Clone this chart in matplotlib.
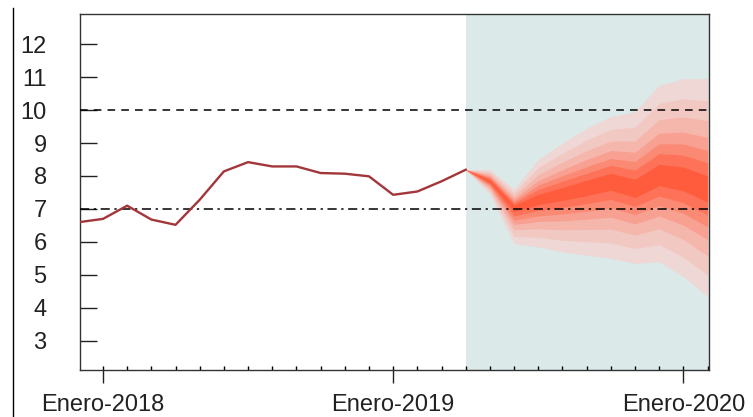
import numpy as np
import matplotlib
matplotlib.use("Agg")
import matplotlib.pyplot as plt
from matplotlib.lines import Line2D

plt.rcParams['font.family'] = ['Liberation Sans', 'DejaVu Sans']

# meses contados desde Enero-2018 (= 0)
obs_mes = [-1, 0, 1, 2, 3, 4, 5, 6, 7, 8, 9, 10, 11, 12, 13, 14, 15]
obs_val = [6.60, 6.70, 7.10, 6.68, 6.52, 7.28, 8.14, 8.42, 8.29, 8.29,
           8.09, 8.07, 7.99, 7.43, 7.53, 7.84, 8.19]

# pronostico (fan chart), abril-2019 .. febrero-2020, de la banda externa a la interna
fan_mes = [15, 16, 17, 18, 19, 20, 21, 22, 23, 24, 25]
mediana = [8.19, 7.85, 7.05, 7.30, 7.47, 7.65, 7.85, 7.62, 8.02, 7.90, 7.60]
banda1_sup = [8.19, 8.20, 7.60, 8.50, 9.00, 9.45, 9.80, 9.95, 10.75, 10.95, 10.95]
banda1_inf = [8.19, 7.45, 5.95, 5.85, 5.70, 5.60, 5.50, 5.35, 5.40, 4.95, 4.35]
banda2_sup = [8.19, 8.13, 7.49, 8.26, 8.69, 9.09, 9.41, 9.48, 10.20, 10.34, 10.28]
banda2_inf = [8.19, 7.53, 6.17, 6.14, 6.05, 6.01, 5.97, 5.80, 5.92, 5.54, 5.00]
banda3_sup = [8.19, 8.07, 7.39, 8.04, 8.42, 8.77, 9.06, 9.06, 9.71, 9.79, 9.68]
banda3_inf = [8.19, 7.60, 6.37, 6.40, 6.37, 6.38, 6.39, 6.21, 6.40, 6.07, 5.58]
banda4_sup = [8.19, 8.01, 7.31, 7.86, 8.19, 8.50, 8.77, 8.72, 9.30, 9.33, 9.17]
banda4_inf = [8.19, 7.66, 6.53, 6.62, 6.64, 6.69, 6.75, 6.55, 6.79, 6.51, 6.07]
banda5_sup = [8.19, 7.97, 7.24, 7.72, 8.01, 8.28, 8.53, 8.44, 8.98, 8.97, 8.77]
banda5_inf = [8.19, 7.71, 6.66, 6.79, 6.85, 6.93, 7.03, 6.83, 7.10, 6.87, 6.46]
banda6_sup = [8.19, 7.93, 7.18, 7.59, 7.84, 8.08, 8.32, 8.18, 8.68, 8.63, 8.40]
banda6_inf = [8.19, 7.75, 6.79, 6.95, 7.05, 7.16, 7.29, 7.08, 7.39, 7.19, 6.82]
banda7_sup = [8.19, 7.89, 7.12, 7.44, 7.65, 7.87, 8.08, 7.90, 8.35, 8.27, 8.00]
banda7_inf = [8.19, 7.80, 6.92, 7.13, 7.26, 7.40, 7.57, 7.35, 7.71, 7.55, 7.21]

bandas = [(banda1_inf, banda1_sup), (banda2_inf, banda2_sup),
          (banda3_inf, banda3_sup), (banda4_inf, banda4_sup),
          (banda5_inf, banda5_sup), (banda6_inf, banda6_sup),
          (banda7_inf, banda7_sup)]
colores = ['#eed7d5', '#f2c8c3', '#f5b6ac', '#f8a091', '#fb8a74',
           '#fd7258', '#ff5c3e']

ticks_mayor = [0, 12, 24]
etiquetas = ['Enero-2018', 'Enero-2019', 'Enero-2020']
yticks = [3, 4, 5, 6, 7, 8, 9, 10, 11, 12]

fig = plt.figure(figsize=(7.53, 4.17), dpi=100)
ax = fig.add_axes([80 / 753, 1 - 370 / 417, 629 / 753, 356 / 417])

ax.axvspan(15, 26, color='#dbe9e9', lw=0, zorder=0)
for (lo, up), c in zip(bandas, colores):
    ax.fill_between(fan_mes, lo, up, color=c, lw=0, zorder=1)

ax.axhline(10, color='black', ls=(0, (5, 4)), lw=1.1, zorder=3)
ax.axhline(7, color='black', ls=(0, (6, 3, 1.5, 3)), lw=1.1, zorder=3)
ax.plot(obs_mes, obs_val, color='#a3363b', lw=1.7, zorder=4)

ax.set_xlim(-0.95, 25.06)
ax.set_ylim(2.12, 12.91)

ax.set_yticks(yticks)
ax.tick_params(axis='y', direction='in', length=12, width=1, pad=24,
               labelsize=17, colors='#222222')
for lab in ax.get_yticklabels():
    lab.set_horizontalalignment('right')

ax.set_xticks(ticks_mayor)
ax.set_xticklabels(etiquetas)
ax.set_xticks(range(0, 26), minor=True)
ax.xaxis.remove_overlapping_locs = False
ax.tick_params(axis='x', which='major', direction='out', length=9.5, width=1,
               pad=8, labelsize=17, colors='#222222')
ax.tick_params(axis='x', which='minor', direction='in', length=3, width=1)

for s in ax.spines.values():
    s.set_color('#333333')
    s.set_linewidth(1)

fig.add_artist(Line2D([13 / 753, 13 / 753], [0, 1 - 8 / 417],
                      color='black', lw=1))

fig.savefig('out.png', dpi=100)
